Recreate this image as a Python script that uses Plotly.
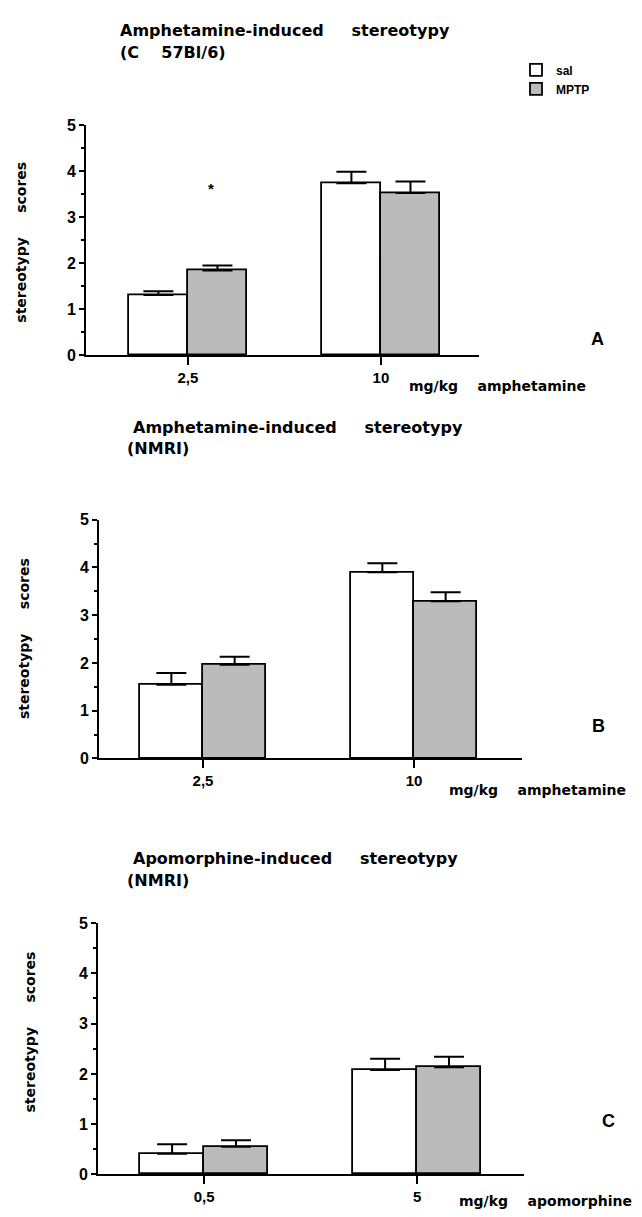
import plotly.graph_objects as go

W, H = 642, 1217
NB = "\u00a0"

# ---------------- data ----------------
doses_A = ["2,5", "10"]
sal_A = [1.31, 3.74]
sal_A_err = [0.08, 0.25]
mptp_A = [1.84, 3.53]
mptp_A_err = [0.11, 0.25]

doses_B = ["2,5", "10"]
sal_B = [1.54, 3.90]
sal_B_err = [0.25, 0.19]
mptp_B = [1.96, 3.29]
mptp_B_err = [0.17, 0.19]

doses_C = ["0,5", "5"]
sal_C = [0.41, 2.08]
sal_C_err = [0.19, 0.22]
mptp_C = [0.55, 2.13]
mptp_C_err = [0.13, 0.21]

y_ticks = [0, 1, 2, 3, 4, 5]
star_A = (0.12, 3.52)
star_B = (1.147, 5.05)

# ---------------- layout geometry (pixels) ----------------
panels = [
    ("", doses_A, sal_A, sal_A_err, mptp_A, mptp_A_err, 86, 479, 352, 119, [-0.528, 1.508], 0.306),
    ("2", doses_B, sal_B, sal_B_err, mptp_B, mptp_B_err, 99, 522, 761, 519, [-0.493, 1.512], 0.30),
    ("3", doses_C, sal_C, sal_C_err, mptp_C, mptp_C_err, 98, 524, 1183, 928, [-0.498, 1.502], 0.30),
]

fig = go.Figure()
pattern = dict(shape=".", fgcolor="#333333", bgcolor="#dcdcdc", size=2, solidity=0.45)

layout_axes = {}
for i, (k, doses, s, se, m, me, x0, x1, yb, yt, xr, bw) in enumerate(panels):
    xa, ya = "x" + k, "y" + k
    fig.add_trace(go.Bar(
        x=doses, y=s, name="sal", xaxis=xa, yaxis=ya,
        offset=-bw, width=bw, showlegend=(i == 0), legendrank=1,
        marker=dict(color="white", line=dict(color="black", width=1.8)),
        error_y=dict(type="data", symmetric=False, array=se, arrayminus=[0] * len(se),
                     color="black", thickness=2, width=15),
    ))
    fig.add_trace(go.Bar(
        x=doses, y=m, name="MPTP", xaxis=xa, yaxis=ya,
        offset=0, width=bw, showlegend=(i == 0), legendrank=2,
        marker=dict(color="#c4c4c4", pattern=pattern, line=dict(color="black", width=1.8)),
        error_y=dict(type="data", symmetric=False, array=me, arrayminus=[0] * len(me),
                     color="black", thickness=2, width=15),
    ))
    layout_axes["xaxis" + k] = dict(
        domain=[x0 / W, x1 / W], anchor=ya, type="category", range=xr,
        showline=True, linecolor="black", linewidth=2, showgrid=False, zeroline=False,
        ticks="outside", ticklen=8, tickwidth=2, tickcolor="black",
        tickfont=dict(family="Liberation Sans", size=15, color="black", weight="bold"),
    )
    layout_axes["yaxis" + k] = dict(
        domain=[1 - yb / H, 1 - yt / H], anchor=xa, range=[0, 5],
        tickvals=y_ticks, showline=True, linecolor="black", linewidth=2,
        showgrid=False, zeroline=False,
        ticks="outside", ticklen=5, tickwidth=2, tickcolor="black",
        minor=dict(dtick=0.5, tick0=0, ticks="outside", ticklen=3, tickwidth=1.5, tickcolor="black"),
        tickfont=dict(family="Liberation Sans", size=16, color="black", weight="bold"),
    )

fig.update_layout(**layout_axes)

TF = dict(family="DejaVu Sans", size=16, color="black", weight="bold")
LF = dict(family="DejaVu Sans", size=14, color="black", weight="bold")
annots = []

def txt(x, y, text, font, xanchor="left", yanchor="middle", angle=0):
    annots.append(dict(x=x / W, y=1 - y / H, xref="paper", yref="paper", text=text,
                       showarrow=False, xanchor=xanchor, yanchor=yanchor, font=font,
                       textangle=angle))

# titles
txt(118, 23, "Amphetamine-induced" + NB * 5 + "stereotypy", TF)
txt(118, 45, "(C" + NB * 4 + "57Bl/6)", TF)
txt(131, 425, "Amphetamine-induced" + NB * 5 + "stereotypy", TF)
txt(125, 447, "(NMRI)", TF)
txt(131, 863, "Apomorphine-induced" + NB * 5 + "stereotypy", TF)
txt(125, 885, "(NMRI)", TF)

# y-axis titles (rotated)
ytitle = "stereotypy" + NB * 5 + "scores"
txt(21, 238, ytitle, LF, xanchor="center", angle=-90)
txt(24, 640, ytitle, LF, xanchor="center", angle=-90)
txt(30, 1039, ytitle, LF, xanchor="center", angle=-90)

# x-axis titles
txt(407, 383, "mg/kg" + NB * 4 + "amphetamine", LF)
txt(447, 793, "mg/kg" + NB * 4 + "amphetamine", LF)
txt(457, 1210, "mg/kg" + NB * 4 + "apomorphine", LF)

# panel letters
PF = dict(family="Liberation Sans", size=18, color="black", weight="bold")
txt(597, 336, "A", PF, xanchor="center")
txt(598, 728, "B", PF, xanchor="center")
txt(608, 1129, "C", PF, xanchor="center")

# significance stars
SF = dict(family="Liberation Sans", size=15, color="black", weight="bold")
annots.append(dict(x=star_A[0], y=star_A[1], xref="x", yref="y", text="*", showarrow=False,
                   font=SF, yshift=5))
annots.append(dict(x=star_B[0], y=star_B[1], xref="x2", yref="y2", text="*", showarrow=False,
                   font=SF, yshift=5))

fig.update_layout(
    width=W, height=H, margin=dict(l=0, r=0, t=0, b=0),
    paper_bgcolor="white", plot_bgcolor="white",
    barmode="overlay", bargap=0,
    annotations=annots,
    font=dict(family="Liberation Sans", color="black"),
    legend=dict(x=516 / W, y=1 - 48 / H, xanchor="left", yanchor="top",
                font=dict(family="Liberation Sans", size=12, color="black", weight="bold"),
                bgcolor="rgba(0,0,0,0)", tracegroupgap=0, itemwidth=30),
)

fig.write_html("out.html")
